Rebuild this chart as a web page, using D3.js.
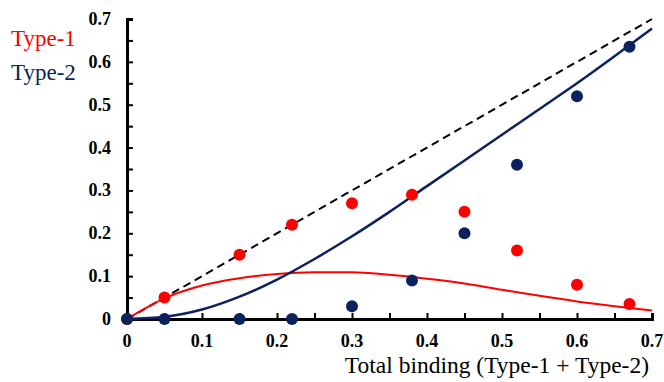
<!DOCTYPE html>
<html>
<head>
<meta charset="utf-8">
<script src="https://cdn.jsdelivr.net/npm/d3@7"></script>
<style>
  body { margin: 0; background: #fff; }
</style>
</head>
<body>
<div id="chart"></div>
<script>
// measured points
const xPoints = [0, 0.05, 0.15, 0.22, 0.30, 0.38, 0.45, 0.52, 0.60, 0.67];
const type1Points = [0, 0.05, 0.15, 0.22, 0.27, 0.29, 0.25, 0.16, 0.08, 0.035];
const type2Points = [0, 0, 0, 0, 0.03, 0.09, 0.20, 0.36, 0.52, 0.635];

// fitted curves
const xCurve = [0, 0.05, 0.1, 0.15, 0.2, 0.25, 0.3, 0.35, 0.4, 0.45, 0.5, 0.55, 0.6, 0.65, 0.7];
const type1Curve = [0, 0.048, 0.078, 0.095, 0.105, 0.109, 0.109, 0.103, 0.094, 0.083, 0.068, 0.054, 0.041, 0.030, 0.020];
const type2Curve = [0, 0.005, 0.022, 0.052, 0.092, 0.140, 0.193, 0.250, 0.310, 0.370, 0.430, 0.490, 0.550, 0.613, 0.678];

const tickValues = [0, 0.1, 0.2, 0.3, 0.4, 0.5, 0.6, 0.7];
const minorTicks = d3.range(0, 0.7001, 0.05);

const width = 664, height = 382;
const margin = { left: 127, top: 19, right: 12, bottom: 63 };

const red = '#ff0000';
const navy = '#0b225e';
const serif = 'Liberation Serif';

const svg = d3.select('#chart').append('svg')
  .attr('width', width)
  .attr('height', height)
  .style('display', 'block');

const x = d3.scaleLinear().domain([0, 0.7]).range([margin.left, width - margin.right]);
const y = d3.scaleLinear().domain([0, 0.7]).range([height - margin.bottom, margin.top]);

// axes
const xAxis = svg.append('g')
  .attr('transform', `translate(0, ${y(0)})`)
  .call(d3.axisBottom(x).tickValues(minorTicks).tickSize(-6).tickFormat(''));
const yAxis = svg.append('g')
  .attr('transform', `translate(${x(0)}, 0)`)
  .call(d3.axisLeft(y).tickValues(minorTicks).tickSize(-6).tickFormat(''));

[xAxis, yAxis].forEach(g => {
  g.select('.domain').attr('stroke', '#000').attr('stroke-width', 3);
  g.selectAll('.tick line').attr('stroke', '#000').attr('stroke-width', 2);
});

const fmt = d => d === 0 ? '0' : d3.format('.1f')(d);

svg.append('g').selectAll('text')
  .data(tickValues)
  .enter()
  .append('text')
  .attr('x', d => x(d))
  .attr('y', 347)
  .attr('text-anchor', 'middle')
  .attr('font-family', serif)
  .attr('font-size', 18)
  .attr('font-weight', 'bold')
  .text(fmt);

svg.append('g').selectAll('text')
  .data(tickValues)
  .enter()
  .append('text')
  .attr('x', 111)
  .attr('y', d => y(d) + 6)
  .attr('text-anchor', 'end')
  .attr('font-family', serif)
  .attr('font-size', 18)
  .attr('font-weight', 'bold')
  .text(fmt);

svg.append('text')
  .attr('x', 649)
  .attr('y', 373)
  .attr('text-anchor', 'end')
  .attr('font-family', serif)
  .attr('font-size', 23.5)
  .text('Total binding (Type-1 + Type-2)');

// diagonal reference
svg.append('line')
  .attr('x1', x(0)).attr('y1', y(0))
  .attr('x2', x(0.7)).attr('y2', y(0.7))
  .attr('stroke', '#000')
  .attr('stroke-width', 2)
  .attr('stroke-dasharray', '8,5');

const line = d3.line()
  .x(d => x(d[0]))
  .y(d => y(d[1]))
  .curve(d3.curveMonotoneX);

svg.append('path')
  .attr('d', line(xCurve.map((v, i) => [v, type1Curve[i]])))
  .attr('fill', 'none')
  .attr('stroke', red)
  .attr('stroke-width', 2);

svg.append('path')
  .attr('d', line(xCurve.map((v, i) => [v, type2Curve[i]])))
  .attr('fill', 'none')
  .attr('stroke', navy)
  .attr('stroke-width', 2.5);

svg.append('g').selectAll('circle')
  .data(xPoints.map((v, i) => [v, type1Points[i]]))
  .enter()
  .append('circle')
  .attr('cx', d => x(d[0]))
  .attr('cy', d => y(d[1]))
  .attr('r', 6)
  .attr('fill', red);

svg.append('g').selectAll('circle')
  .data(xPoints.map((v, i) => [v, type2Points[i]]))
  .enter()
  .append('circle')
  .attr('cx', d => x(d[0]))
  .attr('cy', d => y(d[1]))
  .attr('r', 6)
  .attr('fill', navy);

// legend
svg.append('text')
  .attr('x', 11).attr('y', 46)
  .attr('fill', red)
  .attr('font-family', serif)
  .attr('font-size', 23)
  .text('Type-1');
svg.append('text')
  .attr('x', 11).attr('y', 80)
  .attr('fill', navy)
  .attr('font-family', serif)
  .attr('font-size', 23)
  .text('Type-2');
</script>
</body>
</html>
